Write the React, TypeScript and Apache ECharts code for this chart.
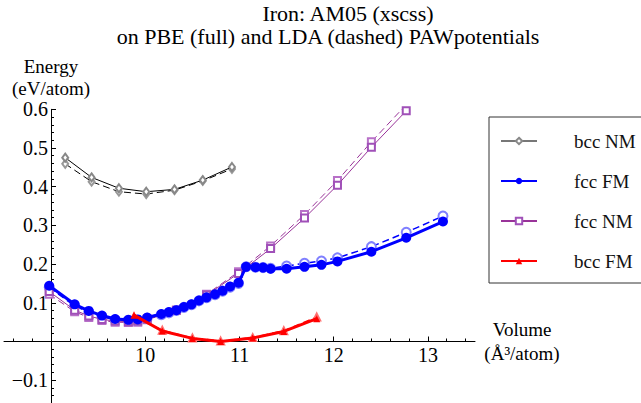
import React, { useEffect, useRef } from 'react';
import * as echarts from 'echarts';

// ---- data (volume in Å^3/atom, energy in eV/atom) ----
const bccNM_V = [9.15, 9.43, 9.72, 10.01, 10.31, 10.61, 10.92];
const bccNM_PBE = [0.475, 0.424, 0.396, 0.387, 0.393, 0.417, 0.451];
const bccNM_LDA = [0.459, 0.413, 0.387, 0.381, 0.391, 0.415, 0.446];

const fccFM_V = [8.98, 9.25, 9.40, 9.54, 9.68, 9.82, 9.92, 10.02, 10.17, 10.25, 10.33, 10.41, 10.49, 10.57, 10.65, 10.74, 10.82, 10.90, 10.99, 11.07, 11.17, 11.25, 11.33, 11.50, 11.69, 11.87, 12.04, 12.40, 12.77, 13.16];
const fccFM_PBE = [0.144, 0.096, 0.079, 0.067, 0.058, 0.056, 0.057, 0.062, 0.071, 0.076, 0.081, 0.089, 0.096, 0.106, 0.114, 0.122, 0.131, 0.142, 0.152, 0.193, 0.192, 0.191, 0.188, 0.188, 0.193, 0.198, 0.207, 0.232, 0.268, 0.310];
const fccFM_LDA = [0.140, 0.092, 0.076, 0.064, 0.056, 0.054, 0.055, 0.060, 0.069, 0.074, 0.080, 0.088, 0.095, 0.105, 0.113, 0.121, 0.130, 0.140, 0.150, 0.193, 0.192, 0.191, 0.189, 0.195, 0.202, 0.208, 0.216, 0.245, 0.282, 0.324];

const fccNM_V = [8.98, 9.25, 9.40, 9.54, 9.68, 9.82, 9.92, 10.02, 10.33, 10.65, 10.99, 11.33, 11.69, 12.04, 12.40, 12.77];
const fccNM_PBE = [0.129, 0.081, 0.066, 0.057, 0.053, 0.051, 0.053, 0.058, 0.081, 0.120, 0.176, 0.240, 0.319, 0.404, 0.502, 0.596];
const fccNM_LDA = [0.122, 0.077, 0.062, 0.054, 0.050, 0.049, 0.050, 0.056, 0.081, 0.122, 0.180, 0.247, 0.328, 0.416, 0.516, 0.612];

const bccFM_V = [9.88, 10.18, 10.50, 10.80, 11.14, 11.47, 11.82];
const bccFM_PBE = [0.068, 0.027, 0.008, 0.000, 0.009, 0.026, 0.059];
const bccFM_LDA = [0.064, 0.029, 0.009, 0.001, 0.010, 0.028, 0.063];

const legendNames = ['bcc NM', 'fcc FM', 'fcc NM', 'bcc FM'];
const xMajorTicks = [10, 11, 12, 13];
const yMajorTicks = [-0.1, 0.1, 0.2, 0.3, 0.4, 0.5, 0.6];
const titleLine1 = 'Iron: AM05 (xscss)';
const titleLine2 = 'on PBE (full) and LDA (dashed) PAWpotentials';

const X_MIN = 8.5;
const X_MAX = 13.5;
const Y_MIN = -0.16;
const Y_MAX = 0.6;

function minorTicks(from: number, to: number, step: number, majorStep: number): number[] {
  const out: number[] = [];
  const n = Math.round((to - from) / step);
  for (let i = 0; i <= n; i++) {
    const v = Math.round((from + i * step) * 1000) / 1000;
    const r = v / majorStep;
    if (Math.abs(r - Math.round(r)) > 1e-6) out.push(v);
  }
  return out;
}
const xMinorTicks = minorTicks(8.6, 13.4, 0.2, 1);
const yMinorTicks = minorTicks(-0.16, 0.58, 0.02, 0.1);

const FONT = 'Liberation Serif';

function pairs(V: number[], E: number[]) {
  return V.map((v, i) => [v, E[i]]);
}

export default function App() {
  const ref = useRef<HTMLDivElement>(null);
  useEffect(() => {
    if (!ref.current) return;
    const chart = echarts.init(ref.current, undefined, { renderer: 'svg' });
    const dash = [7, 4];
    const series: any[] = [
      // LDA (dashed)
      {
        name: 'bcc NM LDA', type: 'line', data: pairs(bccNM_V, bccNM_LDA),
        lineStyle: { color: '#000', width: 1, type: dash }, symbol: 'emptyDiamond', symbolSize: [6, 8],
        itemStyle: { color: '#999', borderWidth: 1 }, z: 2,
      },
      {
        name: 'fcc NM LDA', type: 'line', data: pairs(fccNM_V, fccNM_LDA),
        lineStyle: { color: '#993399', width: 1, type: dash }, symbol: 'emptyRect', symbolSize: 7,
        itemStyle: { color: '#b870c8', borderWidth: 1 }, z: 2,
      },
      {
        name: 'fcc FM LDA', type: 'line', data: pairs(fccFM_V, fccFM_LDA),
        lineStyle: { color: '#0000ff', width: 1.5, type: dash }, symbol: 'emptyCircle', symbolSize: 9,
        itemStyle: { color: '#8080ff', borderWidth: 1 }, z: 2,
      },
      {
        name: 'bcc FM LDA', type: 'line', data: pairs(bccFM_V, bccFM_LDA),
        lineStyle: { color: '#ff0000', width: 1.5, type: dash }, symbol: 'emptyTriangle', symbolSize: 7,
        itemStyle: { color: '#ff7070', borderWidth: 1 }, z: 2,
      },
      // PBE (full)
      {
        name: 'fcc NM', type: 'line', data: pairs(fccNM_V, fccNM_PBE),
        lineStyle: { color: '#993399', width: 1 }, symbol: 'emptyRect', symbolSize: 7,
        itemStyle: { color: '#a050b8', borderWidth: 1 }, z: 3,
      },
      {
        name: 'bcc NM', type: 'line', data: pairs(bccNM_V, bccNM_PBE),
        lineStyle: { color: '#000', width: 1 }, symbol: 'emptyDiamond', symbolSize: [6, 8],
        itemStyle: { color: '#888', borderWidth: 1 }, z: 3,
      },
      {
        name: 'fcc FM', type: 'line', data: pairs(fccFM_V, fccFM_PBE),
        lineStyle: { color: '#0000ff', width: 3 }, symbol: 'circle', symbolSize: 10,
        itemStyle: { color: '#0000ff' }, z: 4,
      },
      {
        name: 'bcc FM', type: 'line', data: pairs(bccFM_V, bccFM_PBE),
        lineStyle: { color: '#ff0000', width: 3 }, symbol: 'triangle', symbolSize: 7,
        itemStyle: { color: '#ff0000' }, z: 5,
      },
    ];
    series.forEach((s) => {
      s.showSymbol = true;
      s.showAllSymbol = true;
      s.clip = true;
      s.emphasis = { disabled: true };
      s.xAxisIndex = 0;
      s.yAxisIndex = 0;
    });

    const labelStyle = { fontFamily: FONT, fontSize: 20, color: '#000' };
    const nameStyle = { fontFamily: FONT, fontSize: 19, color: '#000' };

    chart.setOption({
      animation: false,
      backgroundColor: '#fff',
      textStyle: { fontFamily: FONT },
      grid: [
        { left: 4, top: 109.3, width: 471, height: 294.1, outerBoundsMode: 'none', containLabel: false },
        { left: 4, top: 109.3, width: 471, height: 232.2, outerBoundsMode: 'none', containLabel: false },
      ],
      graphic: [
        {
          type: 'text', x: 348, y: 13.5, silent: true,
          style: { text: titleLine1, fontFamily: FONT, fontSize: 22, fill: '#000', textAlign: 'center', textVerticalAlign: 'middle' },
        },
        {
          type: 'text', x: 328, y: 36.7, silent: true,
          style: { text: titleLine2, fontFamily: FONT, fontSize: 22, fill: '#000', textAlign: 'center', textVerticalAlign: 'middle' },
        },
      ],
      legend: {
        orient: 'vertical', left: 489, top: 117, padding: [14, 40, 12, 11],
        itemWidth: 36, itemHeight: 8, itemGap: 20,
        backgroundColor: '#fff', borderColor: '#333', borderWidth: 1, borderRadius: 0,
        selectedMode: false,
        textStyle: { fontFamily: FONT, fontSize: 19, color: '#111', lineHeight: 20, padding: [0, 0, 0, 32] },
        data: [
          { name: legendNames[0], lineStyle: { color: '#777' } },
          { name: legendNames[1] },
          { name: legendNames[2] },
          { name: legendNames[3] },
        ],
      },
      xAxis: [
        {
          // data axis of the main grid (hidden, spans the same range)
          type: 'value', gridIndex: 0, min: X_MIN, max: X_MAX, show: false,
          axisLine: { onZero: false }, splitLine: { show: false },
        },
        {
          // visible horizontal axis crossing at energy 0
          type: 'value', gridIndex: 1, min: X_MIN, max: X_MAX, position: 'bottom',
          axisLine: { show: true, onZero: false, lineStyle: { color: '#000', width: 1 } },
          axisTick: { show: true, inside: true, length: 5, customValues: xMajorTicks, lineStyle: { color: '#000' } },
          axisLabel: { show: true, customValues: xMajorTicks, margin: 3, ...labelStyle, formatter: (v: number) => String(v) },
          splitLine: { show: false },
          name: 'Volume\n(Å³/atom)', nameLocation: 'end', nameGap: 47,
          nameTextStyle: { ...nameStyle, align: 'center', verticalAlign: 'middle', lineHeight: 24 },
        },
        {
          type: 'value', gridIndex: 1, min: X_MIN, max: X_MAX, position: 'bottom',
          axisLine: { show: false, onZero: false },
          axisTick: { show: true, inside: true, length: 3, customValues: xMinorTicks, lineStyle: { color: '#000' } },
          axisLabel: { show: false },
          splitLine: { show: false },
        },
      ],
      yAxis: [
        {
          type: 'value', gridIndex: 0, min: Y_MIN, max: Y_MAX, position: 'left', offset: -47,
          axisLine: { show: true, onZero: false, lineStyle: { color: '#000', width: 1 } },
          axisTick: { show: true, inside: true, length: 5, customValues: yMajorTicks, lineStyle: { color: '#000' } },
          axisLabel: {
            show: true, customValues: yMajorTicks, margin: 3, ...labelStyle,
            formatter: (v: number) => (v < 0 ? '\u2212' + (-v).toFixed(1) : v.toFixed(1)),
          },
          splitLine: { show: false },
          name: 'Energy\n(eV/atom)', nameLocation: 'end', nameGap: 8,
          nameTextStyle: { ...nameStyle, align: 'center', verticalAlign: 'bottom', lineHeight: 22 },
        },
        {
          type: 'value', gridIndex: 0, min: Y_MIN, max: Y_MAX, position: 'left', offset: -47,
          axisLine: { show: false, onZero: false },
          axisTick: { show: true, inside: true, length: 3, customValues: yMinorTicks, lineStyle: { color: '#000' } },
          axisLabel: { show: false },
          splitLine: { show: false },
        },
        {
          type: 'value', gridIndex: 1, min: 0, max: Y_MAX, show: false,
          axisLine: { onZero: false }, splitLine: { show: false },
        },
      ],
      series,
    });
    return () => chart.dispose();
  }, []);
  return <div ref={ref} style={{ position: 'absolute', left: 0, top: 0, width: 641, height: 403 }} />;
}
